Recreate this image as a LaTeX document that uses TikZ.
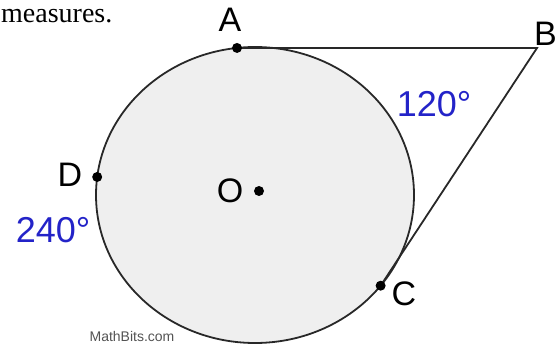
\documentclass[tikz,border=0pt]{standalone}
\usepackage{fontspec}
\setmainfont{Liberation Serif}
\newfontfamily\labelfont{Liberation Sans}
\usepackage{xcolor}
\usepackage{tikz}
\usetikzlibrary{calc}
\definecolor{arcblue}{RGB}{35,35,200}
\definecolor{inkgray}{RGB}{40,40,40}
\definecolor{diskfill}{RGB}{239,239,239}

\begin{document}
\begin{tikzpicture}[
  x=1pt, y=-1pt,
  every node/.style = {inner sep=0pt},
  ptlabel/.style  = {font=\labelfont\fontsize{34}{34}\selectfont, text=black},
  arclabel/.style = {font=\labelfont\fontsize{36}{36}\selectfont, text=arcblue},
  pt/.style       = {fill=black},
  rim/.style      = {draw=inkgray, line width=1.8pt},
]
\useasboundingbox (0,0) rectangle (558,345);

%% ── Circle centre and radii ──────────────────────────────────────────────────
\def\cx{255}  % centre x
\def\cy{195}  % centre y
\def\rx{159}  % horizontal radius
\def\ry{148}  % vertical radius

%% ── Points on the circle and the outside point ───────────────────────────────
\coordinate (O) at (259,191);
\coordinate (A) at ({\cx+\rx*cos(96.5)},{\cy-\ry*sin(96.5)});
\coordinate (D) at ({\cx+\rx*cos(173)},{\cy-\ry*sin(173)});
\coordinate (C) at ({\cx+\rx*cos(-37.8)},{\cy-\ry*sin(-37.8)});
\coordinate (B) at (537,48);

%% ── Disk ─────────────────────────────────────────────────────────────────────
\path[rim, fill=diskfill] (\cx,\cy) ellipse [x radius=159pt, y radius=148pt];

%% ── Tangent segments ─────────────────────────────────────────────────────────
\draw[rim] (A) -- (B) -- (C);

%% ── Dots ─────────────────────────────────────────────────────────────────────
\fill[pt] (A) circle (5pt);
\fill[pt] (D) circle (5pt);
\fill[pt] (C) circle (5pt);
\fill[pt] (O) circle (5pt);

%% ── Labels ───────────────────────────────────────────────────────────────────
\node[ptlabel] (lblA) at (230,20)  {A};
\node[ptlabel, anchor=east] (lblB) at (557,34) {B};
\node[ptlabel] (lblC) at (404,294) {C};
\node[ptlabel] (lblD) at (70,175)  {D};
\node[ptlabel] (lblO) at (230,191) {O};
\node[arclabel] (arcAC) at (434,104) {120°};
\node[arclabel] (arcD)  at (53,230)  {240°};

%% ── Caption fragment and credit ──────────────────────────────────────────────
\node[anchor=base west, font=\fontsize{28}{28}\selectfont] (caption) at (1,23) {measures.};
\node[font=\labelfont\fontsize{14}{14}\selectfont, text=gray!65!black] (credit) at (132,336) {MathBits.com};

\end{tikzpicture}
\end{document}
